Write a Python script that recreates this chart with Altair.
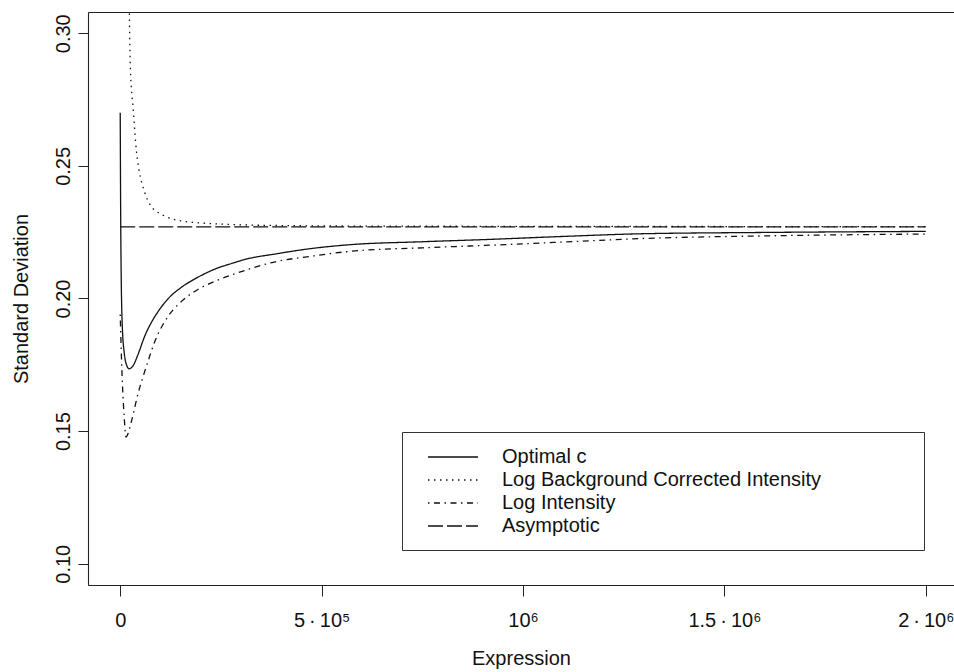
import altair as alt
import pandas as pd

series_names = ["Optimal c", "Log Background Corrected Intensity", "Log Intensity", "Asymptotic"]
series_dashes = [[1, 0], [1.5, 4.5], [1.5, 4.5, 6, 4.5], [15, 4]]

optimal_x = [0, 1000, 2000, 5200, 10200, 16100, 21800, 32500, 44900, 61600, 78200, 94600,
             119400, 152700, 193900, 235300, 280800, 306700, 389800, 472600, 572100, 750000,
             920400, 1100000, 1293500, 1600000, 2000000]
optimal_y = [0.2700, 0.2350, 0.2144, 0.1893, 0.1792, 0.1748, 0.1735, 0.1748, 0.1792, 0.1861,
             0.1912, 0.1952, 0.2000, 0.2043, 0.2081, 0.2111, 0.2134, 0.2146, 0.2169, 0.2188,
             0.2203, 0.2214, 0.2223, 0.2234, 0.2244, 0.2249, 0.2253]

bgcorr_x = [20000, 22600, 25100, 32500, 40000, 46700, 59100, 74700, 106300, 152700, 218000,
            292500, 400000, 600000, 1000000, 2000000]
bgcorr_y = [0.3300, 0.3079, 0.2873, 0.2710, 0.2559, 0.2484, 0.2408, 0.2352, 0.2314, 0.2292,
            0.2283, 0.2278, 0.2275, 0.2273, 0.2272, 0.2271]

logint_x = [0, 3000, 6000, 10000, 14400, 20000, 25000, 32500, 44000, 57300, 70000, 86400,
            111200, 152700, 193900, 235300, 280800, 389800, 472600, 572100, 750000, 920400,
            1100000, 1293500, 1600000, 2000000]
logint_y = [0.1940, 0.1780, 0.1660, 0.1550, 0.1478, 0.1493, 0.1520, 0.1566, 0.1640, 0.1708,
            0.1768, 0.1840, 0.1915, 0.1990, 0.2035, 0.2065, 0.2091, 0.2140, 0.2159, 0.2178,
            0.2191, 0.2201, 0.2213, 0.2226, 0.2236, 0.2243]

asym_x = [0, 2000000]
asym_y = [0.2270, 0.2270]

x_tick_values = [0, 500000, 1000000, 1500000, 2000000]
x_tick_labels = ["0", "5\u2009\u00b7\u200910\u2075", "10\u2076",
                 "1.5\u2009\u00b7\u200910\u2076", "2\u2009\u00b7\u200910\u2076"]
y_tick_values = [0.10, 0.15, 0.20, 0.25, 0.30]

rows = []
for name, xs, ys in zip(series_names,
                        [optimal_x, bgcorr_x, logint_x, asym_x],
                        [optimal_y, bgcorr_y, logint_y, asym_y]):
    for xv, yv in zip(xs, ys):
        rows.append({"series": name, "x": xv, "y": yv})
df = pd.DataFrame(rows)

label_expr = " : ".join(
    f"datum.value == {v} ? '{l}'" for v, l in zip(x_tick_values, x_tick_labels)
) + " : ''"

FONT = "Liberation Sans"
INK = "#111111"

xscale = alt.Scale(domain=[-80000, 2070000], nice=False, zero=False)
yscale = alt.Scale(domain=[0.092, 0.308], nice=False, zero=False)
dash_scale = alt.Scale(domain=series_names, range=series_dashes)

legend = alt.Legend(
    orient="none", legendX=314, legendY=420,
    title="\u00a0", titleOrient="right", titleFontSize=1, titlePadding=89,
    padding=14, rowPadding=2,
    symbolType="M-2.5,0H2.5", symbolSize=400, symbolStrokeWidth=1.3,
    symbolStrokeColor=INK, symbolOffset=26, labelOffset=38,
    labelFontSize=20, labelFont=FONT, labelColor=INK, labelLimit=700,
    strokeColor="#333333", fillColor="white", cornerRadius=0,
)

base = alt.Chart(df)

curves = base.transform_filter(alt.datum.series != "Asymptotic").mark_line(
    clip=True, strokeWidth=1.3, color=INK, interpolate="monotone"
).encode(
    x=alt.X("x:Q", scale=xscale, axis=alt.Axis(
        orient="bottom", values=x_tick_values, labelExpr=label_expr, grid=False,
        domain=True, domainColor="#222222", domainWidth=1.1,
        tickSize=11, tickColor="#222222", labelPadding=30, labelBaseline="alphabetic",
        labelFontSize=20, labelFont=FONT, labelColor=INK,
        title="Expression", titleFontSize=20, titleFont=FONT, titleFontWeight="normal",
        titleColor=INK, titleY=79, titleX=433, titleBaseline="alphabetic", titleAlign="center",
    )),
    y=alt.Y("y:Q", scale=yscale, axis=alt.Axis(
        values=y_tick_values, format=".2f", grid=False,
        domain=True, domainColor="#222222", domainWidth=1.1,
        tickSize=10, tickColor="#222222", labelAngle=270, labelAlign="center",
        labelBaseline="alphabetic", labelPadding=9,
        labelFontSize=20, labelFont=FONT, labelColor=INK,
        title="Standard Deviation", titleFontSize=20, titleFont=FONT,
        titleFontWeight="normal", titleColor=INK, titleAngle=270, titleAlign="center",
        titleBaseline="alphabetic", titleX=-61, titleY=286.5,
    )),
    strokeDash=alt.StrokeDash("series:N", scale=dash_scale, legend=legend),
    detail="series:N",
)

asym = base.transform_filter(alt.datum.series == "Asymptotic").mark_line(
    clip=True, strokeWidth=1.4, color=INK
).encode(
    x=alt.X("x:Q", scale=xscale, axis=alt.Axis(
        orient="top", labels=False, ticks=False, grid=False, title=None,
        domain=True, domainColor="#222222", domainWidth=1.1,
    )),
    y=alt.Y("y:Q", scale=yscale),
    strokeDash=alt.StrokeDash("series:N", scale=dash_scale, legend=legend),
)

chart = alt.layer(curves, asym).resolve_axis(x="independent").properties(
    width=866, height=573,
    padding={"left": 88, "top": 12, "right": 0, "bottom": 87},
    autosize=alt.AutoSizeParams(type="none"),
).configure_view(stroke=None).configure(background="white")

chart.save("out.html", embed_options={"renderer": "svg", "actions": False})
